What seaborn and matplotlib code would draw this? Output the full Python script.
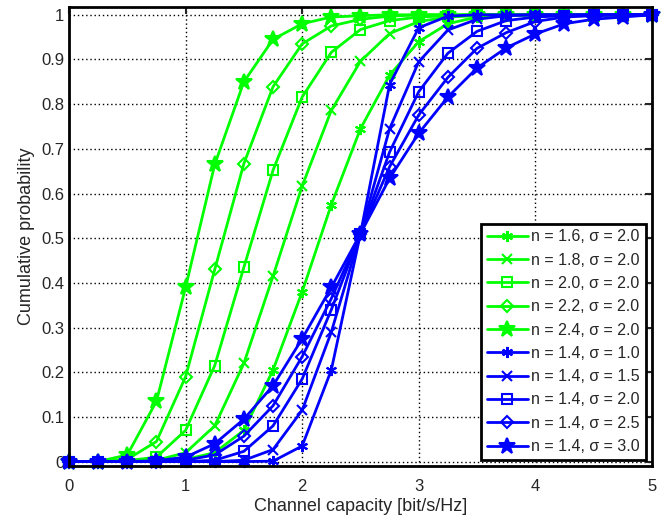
import seaborn as sns
import matplotlib.pyplot as plt
import numpy as np

# capacidade do canal (eixo x)
x = [0, 0.25, 0.5, 0.75, 1.0, 1.25, 1.5, 1.75, 2.0, 2.25, 2.5,
     2.75, 3.0, 3.25, 3.5, 3.75, 4.0, 4.25, 4.5, 4.75, 5.0]

# curvas verdes (sigma = 2.0, n variando)
g_n16 = [0, 0, 0, 0, 0.005, 0.02, 0.07, 0.205, 0.38, 0.575, 0.745,
         0.865, 0.94, 0.98, 0.995, 0.998, 1, 1, 1, 1, 1]
g_n18 = [0, 0, 0, 0.003, 0.02, 0.08, 0.22, 0.415, 0.617, 0.786, 0.896,
         0.958, 0.985, 0.995, 0.998, 1, 1, 1, 1, 1, 1]
g_n20 = [0, 0, 0.002, 0.01, 0.07, 0.215, 0.435, 0.652, 0.816, 0.916, 0.967,
         0.987, 0.995, 0.998, 1, 1, 1, 1, 1, 1, 1]
g_n22 = [0, 0, 0.005, 0.045, 0.19, 0.43, 0.667, 0.839, 0.935, 0.975, 0.99,
         0.997, 1, 1, 1, 1, 1, 1, 1, 1, 1]
g_n24 = [0, 0, 0.015, 0.135, 0.39, 0.665, 0.85, 0.945, 0.98, 0.995, 0.998,
         1, 1, 1, 1, 1, 1, 1, 1, 1, 1]

# curvas azuis (n = 1.4, sigma variando)
b_s10 = [0, 0, 0, 0, 0, 0, 0, 0.001, 0.035, 0.205, 0.51,
         0.844, 0.971, 0.997, 1, 1, 1, 1, 1, 1, 1]
b_s15 = [0, 0, 0, 0, 0, 0, 0.003, 0.027, 0.115, 0.29, 0.51,
         0.745, 0.895, 0.966, 0.99, 0.998, 1, 1, 1, 1, 1]
b_s20 = [0, 0, 0, 0, 0, 0.003, 0.023, 0.08, 0.185, 0.34, 0.51,
         0.693, 0.828, 0.914, 0.963, 0.987, 0.995, 0.998, 1, 1, 1]
b_s25 = [0, 0, 0, 0, 0.003, 0.015, 0.057, 0.125, 0.235, 0.365, 0.51,
         0.66, 0.776, 0.86, 0.925, 0.96, 0.985, 0.995, 0.998, 1, 1]
b_s30 = [0, 0, 0, 0.002, 0.01, 0.04, 0.095, 0.17, 0.275, 0.39, 0.51,
         0.634, 0.735, 0.816, 0.881, 0.926, 0.957, 0.98, 0.99, 0.995, 1]

labels = ['n = 1.6, σ = 2.0', 'n = 1.8, σ = 2.0', 'n = 2.0, σ = 2.0',
          'n = 2.2, σ = 2.0', 'n = 2.4, σ = 2.0', 'n = 1.4, σ = 1.0',
          'n = 1.4, σ = 1.5', 'n = 1.4, σ = 2.0', 'n = 1.4, σ = 2.5',
          'n = 1.4, σ = 3.0']
series = [g_n16, g_n18, g_n20, g_n22, g_n24, b_s10, b_s15, b_s20, b_s25, b_s30]

sns.set_style('white')
plt.rcParams['font.family'] = ['Liberation Sans', 'DejaVu Sans']

fig, ax = plt.subplots(figsize=(6.7, 5.15), dpi=100)
fig.subplots_adjust(left=0.103, right=0.973, top=0.986, bottom=0.095)

asterisco = (6, 2, 0)
marcadores = [asterisco, 'x', 's', 'D', '*'] * 2
tamanhos = [8, 7, 7, 6, 12] * 2
cores = ['#00ff00'] * 5 + ['#0000ff'] * 5

for y, lab, m, ms, c in zip(series, labels, marcadores, tamanhos, cores):
    aberto = m in ('s', 'D')
    sns.lineplot(x=x, y=y, ax=ax, color=c, marker=m, markersize=ms,
                 markerfacecolor='none' if aberto else c, markeredgecolor=c,
                 markeredgewidth=1.5, linewidth=2, label=lab, clip_on=False)

ax.set_xlim(0, 5)
ax.set_ylim(-0.01, 1.017)
ax.set_xticks(np.arange(0, 6, 1))
ax.set_yticks(np.arange(0, 1.01, 0.1))
ax.set_yticklabels(['0', '0.1', '0.2', '0.3', '0.4', '0.5', '0.6', '0.7', '0.8', '0.9', '1'])
ax.tick_params(direction='in', top=True, right=True, labelsize=12, length=5, width=1.5)
ax.tick_params(axis='x', pad=9)
ax.grid(True, color='black', linestyle=(0, (1, 2)), linewidth=1)
for s in ax.spines.values():
    s.set_color('black')
    s.set_linewidth(2)

ax.set_xlabel('Channel capacity [bit/s/Hz]', fontsize=13, labelpad=3)
ax.set_ylabel('Cumulative probability', fontsize=13, labelpad=4)

leg = ax.legend(loc='lower right', fontsize=11.5, frameon=True, fancybox=False,
                handlelength=2.6, handletextpad=0.2, labelspacing=0.52,
                borderpad=0.35, borderaxespad=0.4, framealpha=1)
leg.get_frame().set_edgecolor('black')
leg.get_frame().set_linewidth(2)

plt.savefig('out.png', dpi=100)
